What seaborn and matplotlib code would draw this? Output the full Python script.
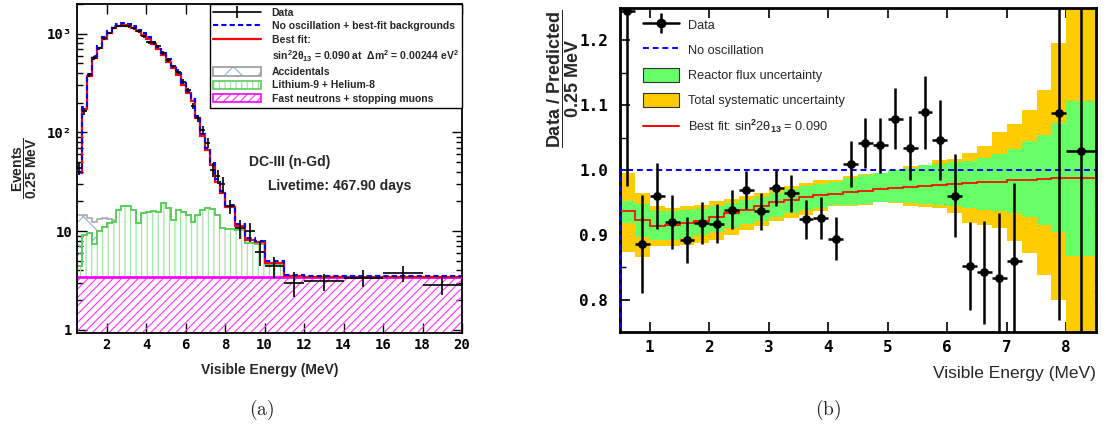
import numpy as np
import matplotlib
matplotlib.use("Agg")
import matplotlib.pyplot as plt
import seaborn as sns
from matplotlib.patches import Patch
from matplotlib.lines import Line2D
from matplotlib.ticker import FixedLocator, FixedFormatter, NullFormatter, MultipleLocator, LogLocator

# ---------------- panel (a): spectrum ----------------
spec_edges = [0.5, 0.75, 1.0, 1.25, 1.5, 1.75, 2.0, 2.25, 2.5, 2.75, 3.0, 3.25, 3.5, 3.75,
              4.0, 4.25, 4.5, 4.75, 5.0, 5.25, 5.5, 5.75, 6.0, 6.25, 6.5, 6.75, 7.0, 7.25,
              7.5, 7.75, 8.0, 8.5, 9.0, 9.5, 10.0, 11.0, 12.0, 14.0, 16.0, 18.0, 20.0]
data_counts = [43.5, 163, 384, 566, 714, 902, 1014, 1140, 1205, 1205,
               1186, 1133, 1057, 940, 818, 806, 745, 637, 544, 466,
               414, 328, 266, 186, 140, 106, 79, 42, 36, 30,
               17.8, 10.7, 10.0, 6.2, 4.4, 3.0, 3.1, 3.35, 3.75, 2.85]
data_err = [6.6, 12.8, 19.6, 23.8, 26.7, 30.0, 31.8, 33.8, 34.7, 34.7,
            34.4, 33.7, 32.5, 30.7, 28.6, 28.4, 27.3, 25.2, 23.3, 21.6,
            20.3, 18.1, 16.3, 13.6, 11.8, 10.3, 8.9, 6.5, 6.0, 5.5,
            3.0, 2.3, 2.2, 1.8, 1.05, 0.85, 0.62, 0.65, 0.68, 0.6]
nosc_bkg = [40, 183, 393, 589, 755, 926, 1055, 1186, 1260, 1290,
            1260, 1186, 1100, 1020, 926, 830, 735, 640, 550, 470,
            403, 318, 262, 216, 147, 96, 70, 49.5, 33.5, 25.5,
            18.6, 11.8, 8.6, 8.0, 5.0, 3.6, 3.5, 3.5, 3.5, 3.5]
best_fit = [38.7, 172, 374, 566, 714, 884, 1013, 1140, 1205, 1230,
            1205, 1140, 1055, 976, 884, 791, 698, 611, 523, 448,
            384, 303, 250, 206, 140, 91, 66.6, 47, 31.8, 24.3,
            17.7, 11.3, 8.2, 7.7, 4.8, 3.5, 3.47, 3.47, 3.47, 3.47]
# stacked fast-n + Li9/He8 (bins up to 11 MeV)
li9_stack = [4.45, 9.2, 9.55, 7.4, 10.1, 11.1, 12.0, 12.5, 16.4, 17.8,
             18.0, 16.4, 12.0, 15.2, 15.8, 15.9, 15.5, 19.2, 17.1, 13.0,
             16.4, 15.8, 14.6, 12.5, 14.6, 16.4, 17.1, 16.8, 14.6, 10.7,
             10.5, 10.3, 7.6, 7.4, 4.6]
# stacked + accidentals (first bins, where visible)
acc_stack = [14.6, 14.6, 13.5, 12.3, 13.2, 13.5, 13.3, 13.0]
fn_level = [3.47]
fn_edges = [0.5, 20.0]

# ---------------- panel (b): ratio ----------------
band_edges = [0.5, 0.75, 1.0, 1.25, 1.5, 1.75, 2.0, 2.25, 2.5, 2.75, 3.0, 3.25, 3.5, 3.75,
              4.0, 4.25, 4.5, 4.75, 5.0, 5.25, 5.5, 5.75, 6.0, 6.25, 6.5, 6.75, 7.0, 7.25,
              7.5, 7.75, 8.0, 8.25, 8.5]
best_ratio = [0.936, 0.923, 0.914, 0.915, 0.918, 0.921, 0.927, 0.933, 0.938, 0.944,
              0.950, 0.954, 0.958, 0.961, 0.963, 0.966, 0.968, 0.970, 0.972, 0.974,
              0.976, 0.977, 0.979, 0.980, 0.981, 0.982, 0.984, 0.985, 0.986, 0.987,
              0.988, 0.988]
flux_hi = [0.952, 0.947, 0.936, 0.936, 0.938, 0.940, 0.944, 0.949, 0.954, 0.959,
           0.964, 0.970, 0.975, 0.979, 0.982, 0.987, 0.992, 0.995, 1.000, 1.003,
           1.007, 1.010, 1.012, 1.014, 1.018, 1.025, 1.032, 1.044, 1.054, 1.072,
           1.106, 1.106]
flux_lo = [0.918, 0.897, 0.892, 0.892, 0.895, 0.900, 0.905, 0.910, 0.916, 0.922,
           0.928, 0.934, 0.938, 0.941, 0.946, 0.946, 0.948, 0.950, 0.950, 0.949,
           0.948, 0.946, 0.945, 0.941, 0.938, 0.936, 0.933, 0.927, 0.915, 0.905,
           0.867, 0.867]
syst_hi = [0.996, 0.964, 0.944, 0.941, 0.944, 0.946, 0.952, 0.956, 0.960, 0.965,
           0.970, 0.975, 0.980, 0.984, 0.985, 0.990, 0.994, 0.996, 0.997, 1.006,
           1.008, 1.015, 1.017, 1.026, 1.037, 1.059, 1.071, 1.092, 1.123, 1.196,
           1.30, 1.30]
syst_lo = [0.874, 0.866, 0.883, 0.883, 0.885, 0.887, 0.892, 0.900, 0.908, 0.914,
           0.921, 0.926, 0.931, 0.936, 0.944, 0.944, 0.946, 0.950, 0.949, 0.945,
           0.943, 0.941, 0.933, 0.918, 0.915, 0.910, 0.891, 0.872, 0.838, 0.800,
           0.70, 0.70]
ratio_edges = [0.5, 0.75, 1.0, 1.25, 1.5, 1.75, 2.0, 2.25, 2.5, 2.75, 3.0, 3.25, 3.5, 3.75,
               4.0, 4.25, 4.5, 4.75, 5.0, 5.25, 5.5, 5.75, 6.0, 6.25, 6.5, 6.75, 7.0, 7.25,
               7.5, 7.75, 8.0, 8.5]
ratio_vals = [1.245, 0.886, 0.960, 0.920, 0.892, 0.918, 0.917, 0.939, 0.969, 0.936,
              0.972, 0.964, 0.924, 0.926, 0.894, 1.009, 1.042, 1.038, 1.079, 1.034,
              1.089, 1.046, 0.960, 0.852, 0.842, 0.834, 0.860, np.nan, np.nan, 1.088,
              1.030]
ratio_err = [0.27, 0.076, 0.051, 0.042, 0.035, 0.032, 0.030, 0.030, 0.029, 0.029,
             0.028, 0.029, 0.030, 0.032, 0.033, 0.036, 0.039, 0.042, 0.047, 0.050,
             0.056, 0.062, 0.064, 0.068, 0.079, 0.10, 0.12, np.nan, np.nan, 0.32,
             0.40]
nosc_ratio = [1.0]
nosc_edges = [0.5, 8.5]

# ---------------- style ----------------
sns.set_theme(style="ticks")
plt.rcParams.update({
    "font.family": ["DejaVu Sans Mono"],
    "font.weight": "bold",
    "mathtext.fontset": "custom",
    "mathtext.rm": "Liberation Sans",
    "mathtext.bf": "Liberation Sans:bold",
    "mathtext.it": "Liberation Sans:italic",
    "mathtext.sf": "Liberation Sans",
    "xtick.direction": "in", "ytick.direction": "in",
    "xtick.top": True, "ytick.right": True,
    "xtick.major.size": 7, "ytick.major.size": 7,
    "xtick.minor.size": 4, "ytick.minor.size": 4,
    "xtick.color": "black", "ytick.color": "black",
    "axes.edgecolor": "black",
    "hatch.linewidth": 0.8,
})

SANS = "Liberation Sans"
fig = plt.figure(figsize=(11.06, 4.34), dpi=100)
W, H = 1106.0, 434.0
ax1 = fig.add_axes([77 / W, 1 - 333 / H, 385 / W, 329 / H])
ax2 = fig.add_axes([620 / W, 1 - 332 / H, 476 / W, 324 / H])

# ---------------- panel (a) drawing ----------------
se = np.array(spec_edges)
centers = 0.5 * (se[:-1] + se[1:])
halfw = 0.5 * (se[1:] - se[:-1])

ax1.set_yscale("log")
ax1.stairs(fn_level, fn_edges, baseline=0.5, fill=True, facecolor="none",
           edgecolor="#ff33ff", hatch="////", lw=0, zorder=1)
ax1.stairs(fn_level, fn_edges, baseline=None, color="#ff00ff", lw=2.0, zorder=3)
nli = len(li9_stack)
ax1.stairs(li9_stack, spec_edges[:nli + 1], baseline=fn_level[0], fill=True,
           facecolor="none", edgecolor="#9be39b", hatch="|||", lw=0, zorder=1)
ax1.stairs(li9_stack, spec_edges[:nli + 1], baseline=None, color="#5ccc5c", lw=1.4, zorder=2)
nac = len(acc_stack)
ax1.stairs(acc_stack, spec_edges[:nac + 1], baseline=li9_stack[:nac], fill=True,
           facecolor="none", edgecolor="#8fb0e0", hatch="x", lw=0, zorder=1)
ax1.stairs(acc_stack, spec_edges[:nac + 1], baseline=None, color="#aaaaaa", lw=1.2, zorder=2)
ax1.stairs(best_fit, spec_edges, baseline=None, color="#ff0000", lw=1.6, zorder=4)
ax1.stairs(nosc_bkg, spec_edges, baseline=None, color="#0000ff", lw=1.5,
           linestyle=(0, (2.5, 1.5)), zorder=5)
ax1.errorbar(centers, data_counts, xerr=halfw, yerr=data_err, fmt="none",
             ecolor="black", elinewidth=1.2, zorder=6)

ax1.set_xlim(0.5, 20)
ax1.set_ylim(0.93, 2000)
ax1.xaxis.set_major_locator(MultipleLocator(2))
ax1.yaxis.set_major_locator(FixedLocator([1, 10, 100, 1000]))
ax1.yaxis.set_major_formatter(FixedFormatter(["1", "10", "10²", "10³"]))
ax1.yaxis.set_minor_locator(LogLocator(base=10, subs=np.arange(2, 10)))
ax1.yaxis.set_minor_formatter(NullFormatter())
ax1.tick_params(labelsize=10, width=1.0)
for sp in ax1.spines.values():
    sp.set_linewidth(1.3)

ax1.set_xlabel("Visible Energy (MeV)", family=SANS, weight="bold", fontsize=10, labelpad=8)
ax1.text(0.553, 0.52, "DC-III (n-Gd)", transform=ax1.transAxes, ha="center", va="center",
         family=SANS, weight="bold", fontsize=10)
ax1.text(0.683, 0.447, "Livetime: 467.90 days", transform=ax1.transAxes, ha="center",
         va="center", family=SANS, weight="bold", fontsize=10)

h_data = Line2D([], [], color="black", lw=1.2, marker="|", markersize=9, markeredgewidth=1.2)
h_nosc = Line2D([], [], color="#0000ff", lw=1.5, linestyle=(0, (2.5, 1.5)))
h_best = Line2D([], [], color="#ff0000", lw=1.6)
h_blank = Line2D([], [], color="none")
h_acc = (Patch(facecolor="none", edgecolor="#8fb0e0", hatch="x", lw=0),
         Patch(facecolor="none", edgecolor="#999999", lw=1.2))
h_li = (Patch(facecolor="none", edgecolor="#9be39b", hatch="|||", lw=0),
        Patch(facecolor="none", edgecolor="#5ccc5c", lw=1.2))
h_fn = (Patch(facecolor="none", edgecolor="#ff33ff", hatch="////", lw=0),
        Patch(facecolor="none", edgecolor="#ff00ff", lw=1.2))
labels1 = ["Data", "No oscillation + best-fit backgrounds", "Best fit:",
           "sin$^{\\mathbf{2}}$2θ$_{\\mathbf{13}}$ = 0.090 at  Δm$^{\\mathbf{2}}$ = 0.00244 eV$^{\\mathbf{2}}$",
           "Accidentals", "Lithium-9 + Helium-8", "Fast neutrons + stopping muons"]
leg1 = ax1.legend([h_data, h_nosc, h_best, h_blank, h_acc, h_li, h_fn], labels1,
                  loc="upper right", bbox_to_anchor=(1.0, 1.0), borderaxespad=0,
                  prop={"family": SANS, "weight": "bold", "size": 7.5}, numpoints=1,
                  handlelength=4.6, handleheight=0.85, handletextpad=1.0,
                  labelspacing=0.33, borderpad=0.35, fancybox=False, framealpha=1,
                  edgecolor="black")
leg1.get_frame().set_linewidth(1.0)
leg1.set_zorder(10)

# ---------------- panel (b) drawing ----------------
re_ = np.array(ratio_edges)
rc = 0.5 * (re_[:-1] + re_[1:])
rhw = 0.5 * (re_[1:] - re_[:-1])

ax2.stairs(syst_hi, band_edges, baseline=syst_lo, fill=True, color="#ffcc00", lw=0, zorder=1)
ax2.stairs(flux_hi, band_edges, baseline=flux_lo, fill=True, color="#66ff66", lw=0, zorder=2)
ax2.stairs(best_ratio, band_edges, baseline=None, color="#ff0000", lw=1.2, zorder=3)
ax2.stairs(nosc_ratio, nosc_edges, baseline=0, color="#0000ff", lw=1.4,
           linestyle=(0, (3, 2)), zorder=3)
ax2.errorbar(rc, ratio_vals, xerr=rhw, yerr=ratio_err, fmt="none", ecolor="black",
             elinewidth=1.8, zorder=5)
sns.scatterplot(x=rc, y=ratio_vals, ax=ax2, color="black", s=40, edgecolor="black",
                linewidth=0, zorder=6, legend=False)

ax2.set_xlim(0.5, 8.5)
ax2.set_ylim(0.75, 1.25)
ax2.xaxis.set_major_locator(MultipleLocator(1))
ax2.yaxis.set_major_locator(FixedLocator([0.8, 0.9, 1.0, 1.1, 1.2]))
ax2.yaxis.set_major_formatter(FixedFormatter(["0.8", "0.9", "1.0", "1.1", "1.2"]))
ax2.yaxis.set_minor_locator(MultipleLocator(0.05))
ax2.tick_params(labelsize=11.5, width=1.2)
ax2.tick_params(axis="x", pad=6)
ax2.tick_params(axis="y", pad=8.5)
for sp in ax2.spines.values():
    sp.set_linewidth(2.0)

ax2.set_xlabel("Visible Energy (MeV)", family=SANS, weight="normal", fontsize=12.5,
               labelpad=8, loc="right")

h2_data = (Line2D([], [], color="black", lw=1.8, marker="o", markersize=6),
           Line2D([], [], color="black", lw=0, marker="|", markersize=14, markeredgewidth=1.8))
h2_nosc = Line2D([], [], color="#0000ff", lw=1.4, linestyle=(0, (3, 2)))
h2_flux = Patch(facecolor="#66ff66", edgecolor="#333333", lw=0.8)
h2_syst = Patch(facecolor="#ffcc00", edgecolor="#333333", lw=0.8)
h2_best = Line2D([], [], color="#ff0000", lw=1.4)
labels2 = ["Data", "No oscillation", "Reactor flux uncertainty",
           "Total systematic uncertainty", "Best fit: sin$^{2}$2θ$_{13}$ = 0.090"]
leg2 = ax2.legend([h2_data, h2_nosc, h2_flux, h2_syst, h2_best], labels2,
                  loc="upper left", bbox_to_anchor=(0.048, 0.970), borderaxespad=0,
                  borderpad=0, frameon=False, numpoints=1,
                  prop={"family": SANS, "weight": "normal", "size": 9.2},
                  handlelength=2.8, handleheight=1.3, handletextpad=0.75,
                  labelspacing=0.85)
leg2.set_zorder(10)

# ---------------- y labels and captions ----------------
fig.text(25 / W, 1 - 168 / H, r"$\dfrac{\mathbf{Events}}{\mathbf{0.25\ MeV}}$",
         rotation=90, ha="center", va="center", fontsize=10)
fig.text(563 / W, 1 - 79 / H, r"$\dfrac{\mathrm{Data\ /\ Predicted}}{\mathrm{0.25\ MeV}}$",
         rotation=90, ha="center", va="center", fontsize=13)
fig.text(262 / W, 1 - 410 / H, r"$\mathrm{(a)}$", math_fontfamily="cm",
         ha="center", va="center", fontsize=14)
fig.text(828 / W, 1 - 410 / H, r"$\mathrm{(b)}$", math_fontfamily="cm",
         ha="center", va="center", fontsize=14)

fig.savefig("out.png", dpi=100)
